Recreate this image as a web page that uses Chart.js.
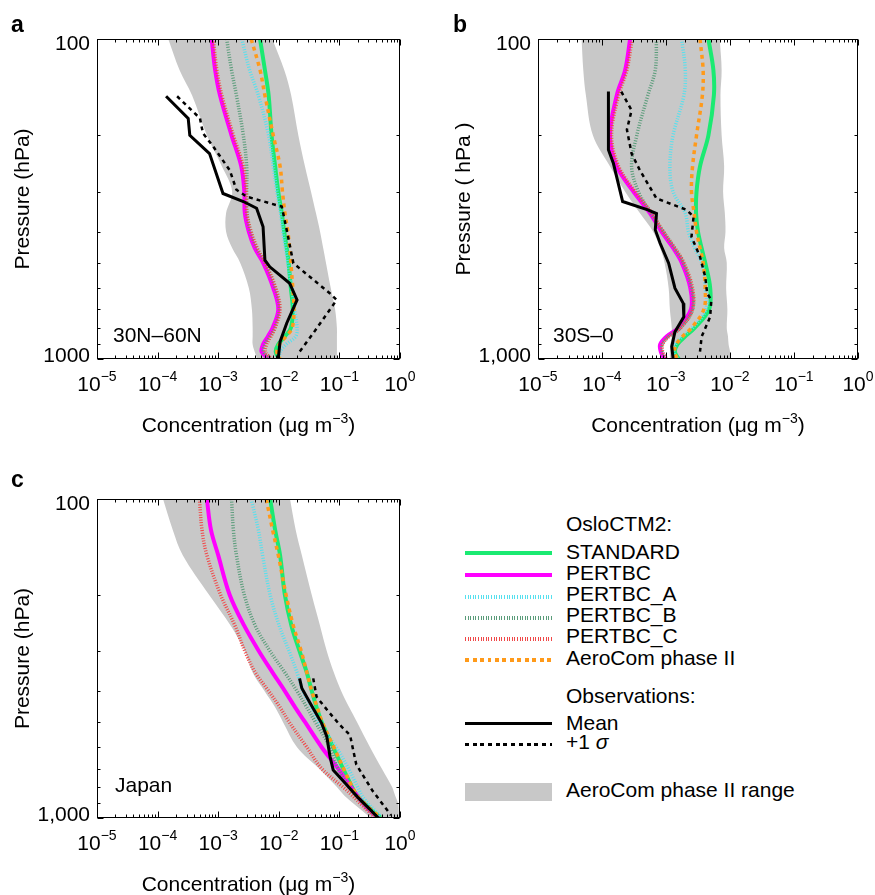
<!DOCTYPE html>
<html>
<head>
<meta charset="utf-8">
<script src="https://cdn.jsdelivr.net/npm/chart.js@4.4.1/dist/chart.umd.min.js"></script>
<style>
  html, body { margin: 0; padding: 0; background: #fff; }
  body { width: 875px; height: 895px; position: relative; overflow: hidden;
         font-family: "Liberation Sans", Arial, Helvetica, sans-serif; color: #000; }
  canvas { position: absolute; }
  .lg { position: absolute; left: 566px; font-size: 21px; line-height: 21px; white-space: nowrap; }
  .sw { position: absolute; left: 465px; width: 87px; }
  .fine { height: 4px; }
</style>
</head>
<body>
<canvas id="panelA" width="440" height="450" style="left:0;top:0"></canvas>
<canvas id="panelB" width="434" height="450" style="left:441px;top:0"></canvas>
<canvas id="panelC" width="440" height="435" style="left:0;top:460px"></canvas>

<!-- legend -->
<div class="lg" style="top:513px">OsloCTM2:</div>
<div class="sw" style="top:551px;height:4px;background:#1aea72"></div>
<div class="lg" style="top:541px">STANDARD</div>
<div class="sw" style="top:573px;height:4px;background:#ff00ff"></div>
<div class="lg" style="top:562px">PERTBC</div>
<div class="sw fine" style="top:595px;background:repeating-linear-gradient(90deg,#55e0ee 0 1px,transparent 1px 2.6px)"></div>
<div class="lg" style="top:583px">PERTBC_A</div>
<div class="sw fine" style="top:616px;background:repeating-linear-gradient(90deg,#5a9c7a 0 1px,transparent 1px 2.6px)"></div>
<div class="lg" style="top:604px">PERTBC_B</div>
<div class="sw fine" style="top:637px;background:repeating-linear-gradient(90deg,#f04848 0 1px,transparent 1px 2.6px)"></div>
<div class="lg" style="top:625px">PERTBC_C</div>
<div class="sw" style="top:658px;height:4px;background:repeating-linear-gradient(90deg,#ff9a1a 0 4px,transparent 4px 7.5px)"></div>
<div class="lg" style="top:647px">AeroCom phase II</div>
<div class="lg" style="top:685px">Observations:</div>
<div class="sw" style="top:722px;height:3px;background:#000"></div>
<div class="lg" style="top:712px">Mean</div>
<div class="sw" style="top:743px;height:3px;background:repeating-linear-gradient(90deg,#000 0 4px,transparent 4px 7.7px)"></div>
<div class="lg" style="top:731px">+1 <i>σ</i></div>
<div class="sw" style="top:783px;height:18px;background:#c8c8c8"></div>
<div class="lg" style="top:779px">AeroCom phase II range</div>

<script>
const FONT = '"Liberation Sans", Arial, Helvetica, sans-serif';

// axis ticks
const xMajorTicks = [1e-5, 1e-4, 1e-3, 1e-2, 1e-1, 1];
const xTickExp = ['\u22125', '\u22124', '\u22123', '\u22122', '\u22121', '0'];
const yTicks = [100, 200, 300, 400, 500, 600, 700, 800, 900, 1000];
const yLabelValues = [100, 1000];

// pressure levels (hPa) for model curves and AeroCom range
const levels = [100, 125, 150, 200, 250, 300, 350, 400, 450, 500, 600, 700, 800, 850, 900, 950, 1000];

// panel a: 30N-60N (ug m-3)
const aStandard = [4.9e-3, 5.9e-3, 6.8e-3, 7.6e-3, 8.7e-3, 9.8e-3, 1.12e-2, 1.23e-2, 1.35e-2, 1.45e-2, 1.58e-2, 1.7e-2, 1.58e-2, 1.26e-2, 9.8e-3, 8.9e-3, 1.02e-2];
const aPertbc = [7.8e-4, 8.9e-4, 1.07e-3, 1.66e-3, 2.4e-3, 2.7e-3, 2.75e-3, 3.2e-3, 4.0e-3, 5.5e-3, 8.1e-3, 9.8e-3, 7.9e-3, 6.6e-3, 5.5e-3, 5.2e-3, 6.8e-3];
const aPertbcA = [2.45e-3, 3.3e-3, 4.6e-3, 6.8e-3, 8.1e-3, 9.3e-3, 1.07e-2, 1.17e-2, 1.29e-2, 1.41e-2, 1.62e-2, 1.82e-2, 2.0e-2, 1.9e-2, 1.32e-2, 1.05e-2, 1.02e-2];
const aPertbcB = [1.38e-3, 1.66e-3, 2.0e-3, 2.6e-3, 2.95e-3, 2.95e-3, 3.0e-3, 3.4e-3, 4.3e-3, 5.9e-3, 8.7e-3, 1.02e-2, 8.5e-3, 7.1e-3, 5.9e-3, 5.6e-3, 7.2e-3];
const aPertbcC = [8.3e-4, 9.5e-4, 1.15e-3, 1.78e-3, 2.6e-3, 2.9e-3, 2.95e-3, 3.5e-3, 4.4e-3, 6.0e-3, 8.9e-3, 1.05e-2, 8.7e-3, 7.4e-3, 6.3e-3, 6.0e-3, 7.6e-3];
const aAerocom = [3.5e-3, 4.9e-3, 5.9e-3, 8.1e-3, 1.05e-2, 1.15e-2, 1.26e-2, 1.41e-2, 1.51e-2, 1.58e-2, 1.7e-2, 1.78e-2, 1.66e-2, 1.32e-2, 1.02e-2, 9.3e-3, 1.05e-2];
const aRangeMin = [1.5e-4, 2.3e-4, 3.7e-4, 6.5e-4, 1.15e-3, 1.7e-3, 1.35e-3, 1.35e-3, 1.7e-3, 2.3e-3, 3.2e-3, 3.6e-3, 3.7e-3, 3.7e-3, 3.7e-3, 4.0e-3, 4.4e-3];
const aRangeMax = [7.8e-3, 1.23e-2, 1.6e-2, 2.1e-2, 2.7e-2, 3.4e-2, 4.1e-2, 4.8e-2, 5.4e-2, 6.0e-2, 7.2e-2, 8.5e-2, 9.1e-2, 9.1e-2, 9.1e-2, 9.1e-2, 9.1e-2];
const aObsP = [151, 177, 200, 228, 304, 322, 338, 386, 491, 515, 580, 654, 773, 883, 995];
const aObsMean = [1.38e-4, 3.2e-4, 3.4e-4, 7.2e-4, 1.2e-3, 2.6e-3, 4.3e-3, 5.5e-3, 5.9e-3, 7.1e-3, 1.51e-2, 2.0e-2, 1.35e-2, 1.05e-2, 9.8e-3];
const aSigP = [151, 177, 197, 217, 257, 296, 311, 334, 395, 502, 624, 654, 831, 949];
const aObsSigma = [2.1e-4, 5.0e-4, 5.6e-4, 8.3e-4, 1.55e-3, 2.0e-3, 2.95e-3, 1.12e-2, 1.35e-2, 1.74e-2, 7.0e-2, 9.0e-2, 3.7e-2, 2.2e-2];

// panel b: 30S-0
const bStandard = [4.6e-3, 5.5e-3, 5.6e-3, 4.6e-3, 3.4e-3, 3.0e-3, 2.95e-3, 3.16e-3, 3.6e-3, 4.1e-3, 4.9e-3, 4.7e-3, 2.8e-3, 2.0e-3, 1.51e-3, 1.38e-3, 1.58e-3];
const bPertbc = [2.75e-4, 2.3e-4, 1.7e-4, 1.33e-4, 1.7e-4, 3.1e-4, 5.6e-4, 8.5e-4, 1.29e-3, 1.76e-3, 2.4e-3, 2.45e-3, 1.55e-3, 1.02e-3, 8.1e-4, 8.3e-4, 9.5e-4];
const bPertbcA = [1.76e-3, 2.0e-3, 1.9e-3, 1.29e-3, 1.15e-3, 1.29e-3, 2.0e-3, 2.24e-3, 2.8e-3, 3.6e-3, 4.1e-3, 4.2e-3, 2.6e-3, 1.82e-3, 1.41e-3, 1.32e-3, 1.51e-3];
const bPertbcB = [7.1e-4, 6.8e-4, 5.2e-4, 3.5e-4, 2.9e-4, 3.7e-4, 5.8e-4, 9.1e-4, 1.35e-3, 1.86e-3, 2.5e-3, 2.6e-3, 1.66e-3, 1.1e-3, 8.7e-4, 8.7e-4, 1.0e-3];
const bPertbcC = [2.95e-4, 2.45e-4, 1.82e-4, 1.41e-4, 1.82e-4, 3.3e-4, 6.0e-4, 9.1e-4, 1.38e-3, 1.9e-3, 2.6e-3, 2.6e-3, 1.7e-3, 1.12e-3, 8.9e-4, 8.9e-4, 1.02e-3];
const bAerocom = [3.4e-3, 3.8e-3, 3.7e-3, 3.0e-3, 2.6e-3, 2.5e-3, 2.75e-3, 3.0e-3, 3.4e-3, 3.8e-3, 4.1e-3, 3.9e-3, 2.5e-3, 1.82e-3, 1.45e-3, 1.35e-3, 1.51e-3];
const bRangeMin = [4.8e-5, 5.1e-5, 5.6e-5, 7.2e-5, 1.33e-4, 2.3e-4, 3.9e-4, 6.3e-4, 8.1e-4, 9.5e-4, 1.1e-3, 1.15e-3, 1.23e-3, 1.23e-3, 1.17e-3, 1.15e-3, 1.15e-3];
const bRangeMax = [6.9e-3, 7.4e-3, 7.1e-3, 7.4e-3, 8.1e-3, 7.8e-3, 8.3e-3, 8.5e-3, 8.1e-3, 8.9e-3, 8.7e-3, 9.1e-3, 8.9e-3, 9.3e-3, 9.5e-3, 1.0e-2, 1.0e-2];
const bObsP = [146, 222, 245, 322, 342, 351, 395, 435, 502, 601, 670, 738, 822, 915, 995];
const bObsMean = [1.26e-4, 1.26e-4, 1.51e-4, 2.1e-4, 5.2e-4, 7.1e-4, 6.8e-4, 8.1e-4, 1.1e-3, 1.38e-3, 1.86e-3, 1.9e-3, 1.38e-3, 1.23e-3, 1.29e-3];
const bSigP = [146, 167, 192, 228, 257, 315, 342, 359, 415, 479, 553, 624, 654, 738, 852, 949];
const bObsSigma = [2.0e-4, 2.9e-4, 2.45e-4, 2.9e-4, 3.9e-4, 7.1e-4, 2.1e-3, 2.7e-3, 2.5e-3, 3.4e-3, 4.1e-3, 4.4e-3, 5.1e-3, 4.9e-3, 3.6e-3, 3.4e-3];

// panel c: Japan
const cStandard = [7.2e-3, 8.7e-3, 1.05e-2, 1.26e-2, 1.62e-2, 2.2e-2, 2.9e-2, 3.5e-2, 4.2e-2, 5.1e-2, 7.9e-2, 1.15e-1, 1.62e-1, 1.95e-1, 2.6e-1, 3.5e-1, 4.9e-1];
const cPertbc = [6.5e-4, 7.6e-4, 1.0e-3, 1.55e-3, 2.7e-3, 4.7e-3, 7.9e-3, 1.26e-2, 1.86e-2, 2.7e-2, 5.1e-2, 9.5e-2, 1.55e-1, 1.95e-1, 2.45e-1, 3.2e-1, 4.4e-1];
const cPertbcA = [3.5e-3, 4.6e-3, 5.4e-3, 7.2e-3, 1.02e-2, 1.48e-2, 2.0e-2, 2.5e-2, 3.5e-2, 4.5e-2, 8.9e-2, 1.41e-1, 2.0e-1, 2.35e-1, 2.95e-1, 3.9e-1, 5.2e-1];
const cPertbcB = [1.66e-3, 1.78e-3, 2.0e-3, 2.7e-3, 4.1e-3, 7.2e-3, 1.26e-2, 2.0e-2, 2.9e-2, 4.0e-2, 7.0e-2, 9.5e-2, 1.48e-1, 1.86e-1, 2.45e-1, 3.2e-1, 4.4e-1];
const cPertbcC = [4.9e-4, 5.4e-4, 6.5e-4, 1.1e-3, 1.9e-3, 2.75e-3, 4.1e-3, 6.8e-3, 1.05e-2, 1.48e-2, 2.9e-2, 5.1e-2, 1.15e-1, 1.62e-1, 2.2e-1, 2.95e-1, 4.0e-1];
const cAerocom = [6.2e-3, 7.9e-3, 9.8e-3, 1.32e-2, 1.74e-2, 2.35e-2, 2.9e-2, 3.5e-2, 4.3e-2, 5.2e-2, 8.1e-2, 1.17e-1, 1.62e-1, 1.95e-1, 2.6e-1, 3.5e-1, 4.9e-1];
const cRangeMin = [1.23e-4, 1.78e-4, 2.6e-4, 7.1e-4, 1.62e-3, 2.75e-3, 3.7e-3, 5.8e-3, 8.7e-3, 1.17e-2, 2.0e-2, 4.6e-2, 9.1e-2, 1.2e-1, 1.7e-1, 2.4e-1, 3.3e-1];
const cRangeMax = [1.53e-2, 1.9e-2, 2.4e-2, 3.5e-2, 4.8e-2, 6.2e-2, 8.1e-2, 1.07e-1, 1.45e-1, 1.95e-1, 3.2e-1, 5.0e-1, 7.4e-1, 8.3e-1, 9.3e-1, 9.5e-1, 9.5e-1];
const cObsP = [365, 392, 437, 505, 556, 642, 707, 780, 860, 940, 1000];
const cObsMean = [2.2e-2, 2.4e-2, 3.3e-2, 5.1e-2, 6.2e-2, 7.0e-2, 7.9e-2, 1.26e-1, 2.0e-1, 3.2e-1, 4.4e-1];
const cSigP = [365, 417, 464, 511, 550, 590, 680, 820, 980];
const cObsSigma = [3.7e-2, 4.2e-2, 6.6e-2, 1.02e-1, 1.5e-1, 1.62e-1, 1.9e-1, 3.5e-1, 7.1e-1];

function pts(p, c) {
  return p.map((v, i) => ({ x: c[i], y: v }));
}

// draws frame, inward ticks and all axis text through the chart scales
const framePlugin = {
  id: 'frame',
  afterDatasetsDraw(chart, args, o) {
    const ctx = chart.ctx, a = chart.chartArea;
    const x = chart.scales.x, y = chart.scales.y;
    const L = Math.round(a.left) + 0.5, R = Math.round(a.right) - 0.5;
    const T = Math.round(a.top) + 0.5, B = Math.round(a.bottom) - 0.5;
    ctx.save();
    ctx.strokeStyle = '#000';
    ctx.lineWidth = 1;
    ctx.strokeRect(L, T, R - L, B - T);
    ctx.beginPath();
    xMajorTicks.forEach((v, i) => {
      for (let m = 1; m < 10; m++) {
        if (m > 1 && i === xMajorTicks.length - 1) break;
        const px = Math.round(x.getPixelForValue(v * m)) + 0.5;
        const len = m === 1 ? 6 : 3;
        ctx.moveTo(px, B); ctx.lineTo(px, B - len);
        ctx.moveTo(px, T); ctx.lineTo(px, T + len);
      }
    });
    yTicks.forEach(v => {
      const py = Math.round(y.getPixelForValue(v)) + 0.5;
      const len = yLabelValues.includes(v) ? 6 : 3;
      ctx.moveTo(L, py); ctx.lineTo(L + len, py);
      ctx.moveTo(R, py); ctx.lineTo(R - len, py);
    });
    ctx.stroke();

    ctx.fillStyle = '#000';
    ctx.textBaseline = 'alphabetic';
    // x tick labels 10^n
    xMajorTicks.forEach((v, i) => {
      const px = x.getPixelForValue(v);
      ctx.font = '21px ' + FONT;
      const w1 = ctx.measureText('10').width;
      ctx.font = '14px ' + FONT;
      const w2 = ctx.measureText(xTickExp[i]).width;
      const left = px - (w1 + w2) / 2;
      ctx.font = '21px ' + FONT;
      ctx.fillText('10', left, a.bottom + 32);
      ctx.font = '14px ' + FONT;
      ctx.fillText(xTickExp[i], left + w1, a.bottom + 22);
    });
    // y tick labels
    ctx.font = '21px ' + FONT;
    ctx.textAlign = 'right';
    ctx.fillText(o.yLabels[0], a.left - 7, y.getPixelForValue(yLabelValues[0]) + 11);
    ctx.fillText(o.yLabels[1], a.left - 7, y.getPixelForValue(yLabelValues[1]) + 3);
    // x title with superscript
    const t1 = 'Concentration (\u03bcg m', t2 = '\u22123', t3 = ')';
    ctx.textAlign = 'left';
    ctx.font = '21px ' + FONT;
    const w1 = ctx.measureText(t1).width, w3 = ctx.measureText(t3).width;
    ctx.font = '14px ' + FONT;
    const w2 = ctx.measureText(t2).width;
    let tx = (a.left + a.right) / 2 - (w1 + w2 + w3) / 2;
    ctx.font = '21px ' + FONT;
    ctx.fillText(t1, tx, a.bottom + 73);
    ctx.font = '14px ' + FONT;
    ctx.fillText(t2, tx + w1, a.bottom + 64);
    ctx.font = '21px ' + FONT;
    ctx.fillText(t3, tx + w1 + w2, a.bottom + 73);
    // region label
    ctx.fillText(o.region, o.regionPos[0], o.regionPos[1]);
    // panel letter
    ctx.font = 'bold 23px ' + FONT;
    ctx.fillText(o.letter, o.letterPos[0], o.letterPos[1]);
    // y title
    ctx.font = '21px ' + FONT;
    ctx.translate(a.left - 68.5, (a.top + a.bottom) / 2);
    ctx.rotate(-Math.PI / 2);
    ctx.textAlign = 'center';
    ctx.fillText(o.yTitle, 0, 0);
    ctx.restore();
  }
};

function makeChart(id, d, pad, frame) {
  const fine = [1, 1.6];
  const datasets = [
    { label: '+1 \u03c3', data: pts(d.sigP, d.sigma), borderColor: '#000', borderWidth: 2.5, borderDash: [4, 4], tension: 0 },
    { label: 'Mean', data: pts(d.obsP, d.mean), borderColor: '#000', borderWidth: 3, tension: 0 },
    { label: 'AeroCom phase II', data: pts(levels, d.aerocom), borderColor: '#ff9a1a', borderWidth: 3.5, borderDash: [4, 4] },
    { label: 'PERTBC_C', data: pts(levels, d.c), borderColor: '#f04848', borderWidth: 3.5, borderDash: fine },
    { label: 'PERTBC_B', data: pts(levels, d.b), borderColor: '#5a9c7a', borderWidth: 3.5, borderDash: fine },
    { label: 'PERTBC_A', data: pts(levels, d.a), borderColor: '#55e0ee', borderWidth: 3.5, borderDash: fine },
    { label: 'PERTBC', data: pts(levels, d.pertbc), borderColor: '#ff00ff', borderWidth: 4 },
    { label: 'STANDARD', data: pts(levels, d.standard), borderColor: '#1aea72', borderWidth: 4 },
    { label: 'range max', data: pts(levels, d.max), borderColor: 'rgba(0,0,0,0)', borderWidth: 0, backgroundColor: '#c8c8c8', fill: '+1' },
    { label: 'range min', data: pts(levels, d.min), borderColor: 'rgba(0,0,0,0)', borderWidth: 0, fill: false }
  ];
  return new Chart(document.getElementById(id), {
    type: 'line',
    data: { datasets },
    options: {
      indexAxis: 'y',
      responsive: false,
      animation: false,
      layout: { padding: pad },
      elements: { point: { radius: 0 }, line: { tension: 0.35, fill: false } },
      scales: {
        x: { type: 'logarithmic', min: 1e-5, max: 1, display: false },
        y: { type: 'logarithmic', min: 100, max: 1000, reverse: true, display: false }
      },
      plugins: { legend: { display: false }, tooltip: { enabled: false }, frame }
    },
    plugins: [framePlugin]
  });
}

makeChart('panelA', {
  standard: aStandard, pertbc: aPertbc, a: aPertbcA, b: aPertbcB, c: aPertbcC, aerocom: aAerocom,
  min: aRangeMin, max: aRangeMax, obsP: aObsP, mean: aObsMean, sigP: aSigP, sigma: aObsSigma
}, { left: 97, top: 39, right: 40, bottom: 91 },
{ yLabels: ['100', '1000'], yTitle: 'Pressure (hPa)', region: '30N\u201360N', regionPos: [113, 342], letter: 'a', letterPos: [11, 32] });

makeChart('panelB', {
  standard: bStandard, pertbc: bPertbc, a: bPertbcA, b: bPertbcB, c: bPertbcC, aerocom: bAerocom,
  min: bRangeMin, max: bRangeMax, obsP: bObsP, mean: bObsMean, sigP: bSigP, sigma: bObsSigma
}, { left: 97, top: 39, right: 17, bottom: 91 },
{ yLabels: ['100', '1,000'], yTitle: 'Pressure ( hPa )', region: '30S\u20130', regionPos: [112, 342], letter: 'b', letterPos: [12, 32] });

makeChart('panelC', {
  standard: cStandard, pertbc: cPertbc, a: cPertbcA, b: cPertbcB, c: cPertbcC, aerocom: cAerocom,
  min: cRangeMin, max: cRangeMax, obsP: cObsP, mean: cObsMean, sigP: cSigP, sigma: cObsSigma
}, { left: 97, top: 39, right: 40, bottom: 77 },
{ yLabels: ['100', '1,000'], yTitle: 'Pressure (hPa)', region: 'Japan', regionPos: [115, 332], letter: 'c', letterPos: [11, 27] });
</script>
</body>
</html>
